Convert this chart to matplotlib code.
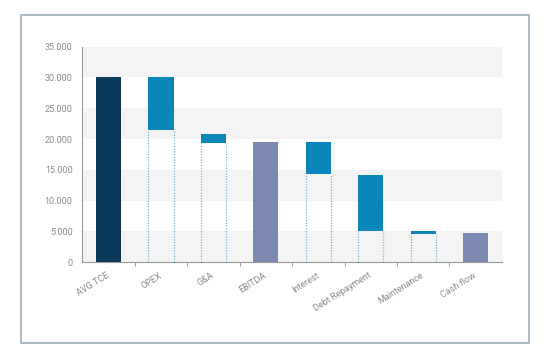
import matplotlib
matplotlib.use("Agg")
import matplotlib.pyplot as plt
from matplotlib.patches import Rectangle
from matplotlib.ticker import FuncFormatter

# waterfall data (bottom / top of each bar)
categories = ["AVG TCE", "OPEX", "G&A", "EBITDA", "Interest",
              "Debt Repayment", "Maintenance", "Cash flow"]
bar_bottom = [0, 21450, 19400, 0, 14300, 5100, 4650, 0]
bar_top = [30000, 30000, 20900, 19450, 19550, 14100, 5150, 4700]
kinds = ["start", "step", "step", "total", "step", "step", "step", "total"]

colors = {"start": "#0b3a5a", "step": "#0a86ba", "total": "#7b88b0"}
yticks = [0, 5000, 10000, 15000, 20000, 25000, 30000, 35000]

plt.rcParams['font.family'] = ['Roboto', 'DejaVu Sans']

fig = plt.figure(figsize=(5.54, 3.6), dpi=100)
ax = fig.add_axes([0.1486, 0.2714, 0.7574, 0.5989])

# outer frame round the chart
fig.patches.append(Rectangle((21 / 554, 1 - 343 / 360), 508 / 554, 328 / 360,
                             transform=fig.transFigure, fill=False,
                             edgecolor="#a9b9c2", linewidth=1.4))

# alternating grey bands
for i in range(0, len(yticks) - 1, 2):
    ax.axhspan(yticks[i], yticks[i + 1], color="#f4f4f4", zorder=0, lw=0)

x = list(range(len(categories)))
w = 0.48
heights = [t - b for t, b in zip(bar_top, bar_bottom)]
ax.bar(x, heights, bottom=bar_bottom, width=w,
       color=[colors[k] for k in kinds], zorder=3)

# dotted guides under the floating bars
for xi, b, k in zip(x, bar_bottom, kinds):
    if k == "step":
        ax.vlines([xi - w / 2, xi + w / 2], 0, b, colors="#7fb6d4",
                  linestyles=(0, (1, 1.2)), linewidth=0.9, zorder=2)

ax.set_xlim(-0.5, len(categories) - 0.5)
ax.set_ylim(0, 35000)
ax.set_yticks(yticks)
ax.yaxis.set_major_formatter(FuncFormatter(lambda v, p: f"{int(v):,}".replace(",", ".")))

ax.set_xticks(x)
ax.set_xticklabels(categories, rotation=32, ha="right", va="center",
                   rotation_mode="anchor")
ax.set_xticks([i + 0.5 for i in range(len(categories) - 1)], minor=True)
ax.tick_params(axis="x", which="major", length=0, pad=9, labelsize=6.5, labelcolor="#8a8a8a")
ax.tick_params(axis="x", which="minor", length=3, color="#999999", width=0.7)
ax.tick_params(axis="y", length=0, pad=7, labelsize=6.5, labelcolor="#8a8a8a")

for s in ["top", "right"]:
    ax.spines[s].set_visible(False)
for s in ["left", "bottom"]:
    ax.spines[s].set_color("#9a9a9a")
    ax.spines[s].set_linewidth(0.8)

fig.savefig("out.png", dpi=100)
